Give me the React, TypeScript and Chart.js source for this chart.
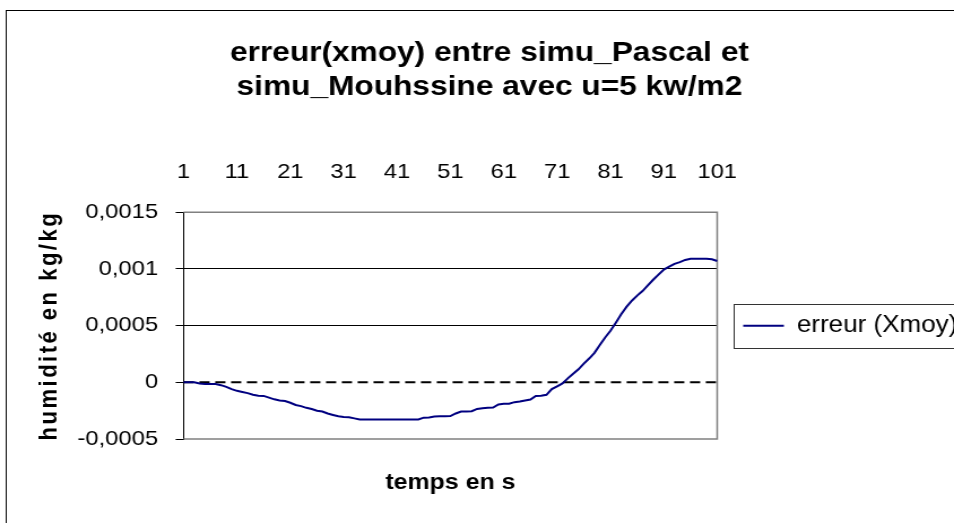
import React, { useEffect, useRef } from 'react';
import { Chart, registerables } from 'chart.js';

Chart.register(...registerables);

const TITLE_LINES = ['erreur(xmoy) entre simu_Pascal et', 'simu_Mouhssine avec u=5 kw/m2'];
const X_TITLE = 'temps en s';
const Y_TITLE = 'humidité en kg/kg';
const SERIES_LABEL = 'erreur (Xmoy)';

// time steps 1..101
const CATEGORIES: string[] = Array.from({ length: 101 }, (_, i) => String(i + 1));
const X_LABEL_STEP = 10;

const Y_TICKS = [-0.0005, 0, 0.0005, 0.001, 0.0015];
const Y_TICK_LABELS = ['-0,0005', '0', '0,0005', '0,001', '0,0015'];

const ERREUR_XMOY = [
  0, 0, 0, -1.0e-5, -1.5e-5, -1.5e-5, -1.5e-5, -2.5e-5, -4.0e-5, -6.0e-5,
  -7.5e-5, -8.5e-5, -9.5e-5, -1.10e-4, -1.18e-4, -1.20e-4, -1.35e-4, -1.50e-4, -1.60e-4, -1.65e-4,
  -1.80e-4, -2.00e-4, -2.10e-4, -2.25e-4, -2.35e-4, -2.50e-4, -2.58e-4, -2.75e-4, -2.88e-4, -3.00e-4,
  -3.05e-4, -3.08e-4, -3.18e-4, -3.28e-4, -3.28e-4, -3.28e-4, -3.28e-4, -3.28e-4, -3.28e-4, -3.28e-4,
  -3.28e-4, -3.28e-4, -3.28e-4, -3.28e-4, -3.28e-4, -3.12e-4, -3.10e-4, -3.02e-4, -3.00e-4, -3.00e-4,
  -2.98e-4, -2.75e-4, -2.58e-4, -2.58e-4, -2.55e-4, -2.35e-4, -2.28e-4, -2.24e-4, -2.22e-4, -1.95e-4,
  -1.90e-4, -1.88e-4, -1.75e-4, -1.70e-4, -1.60e-4, -1.52e-4, -1.20e-4, -1.18e-4, -1.10e-4, -6.0e-5,
  -3.5e-5, -1.0e-5, 3.5e-5, 7.5e-5, 1.15e-4, 1.65e-4, 2.10e-4, 2.60e-4, 3.30e-4, 3.95e-4,
  4.55e-4, 5.25e-4, 6.00e-4, 6.65e-4, 7.20e-4, 7.65e-4, 8.05e-4, 8.55e-4, 9.05e-4, 9.50e-4,
  9.95e-4, 1.020e-3, 1.045e-3, 1.060e-3, 1.080e-3, 1.090e-3, 1.090e-3, 1.090e-3, 1.090e-3, 1.085e-3,
  1.070e-3,
];

const FONT = "'Liberation Sans', Arial, Helvetica, sans-serif";

export default function App() {
  const ref = useRef<HTMLCanvasElement>(null);

  useEffect(() => {
    document.body.style.margin = '0';
    document.body.style.overflow = 'hidden';
    const canvas = ref.current;
    if (!canvas) return;

    const framePlugin = {
      id: 'frame',
      beforeDraw(chart: any) {
        const ctx = chart.ctx;
        ctx.save();
        ctx.fillStyle = '#ffffff';
        ctx.fillRect(0, 0, chart.width, chart.height);
        ctx.strokeStyle = '#000000';
        ctx.lineWidth = 1;
        ctx.strokeRect(5.5, 10.5, chart.width + 40, chart.height + 40);
        ctx.restore();
      },
    };

    const plotPlugin = {
      id: 'plotDecor',
      beforeDatasetsDraw(chart: any) {
        const { ctx, chartArea: a, scales } = chart;
        const y = scales.y;
        ctx.save();
        ctx.strokeStyle = '#808080';
        ctx.lineWidth = 1.5;
        ctx.beginPath();
        ctx.moveTo(a.left, a.top);
        ctx.lineTo(a.right, a.top);
        ctx.lineTo(a.right, a.bottom);
        ctx.lineTo(a.left, a.bottom);
        ctx.stroke();
        const y0 = y.getPixelForValue(0);
        ctx.strokeStyle = '#000000';
        ctx.lineWidth = 2;
        ctx.setLineDash([9, 5]);
        ctx.beginPath();
        ctx.moveTo(a.left, y0);
        ctx.lineTo(a.right, y0);
        ctx.stroke();
        ctx.restore();
      },
    };

    const legendBoxPlugin = {
      id: 'legendBox',
      afterDraw(chart: any) {
        const hb = chart.legend && chart.legend.legendHitBoxes && chart.legend.legendHitBoxes[0];
        if (!hb) return;
        const ctx = chart.ctx;
        ctx.save();
        ctx.strokeStyle = '#333333';
        ctx.lineWidth = 1;
        ctx.strokeRect(Math.round(hb.left - 9) + 0.5, Math.round(hb.top + hb.height / 2 - 22) + 0.5, 400, 44);
        ctx.restore();
      },
    };

    const layoutTweaks = {
      id: 'layoutTweaks',
      afterLayout(chart: any) {
        // let the legend text run to the canvas edge (the reference box is cut by the frame edge)
        const lg = chart.legend;
        if (lg) {
          lg.right = chart.width + 60;
          lg.width = lg.right - lg.left;
        }
        const s = chart.scales.y;
        if (s && !s.__spaced) {
          const orig = s.drawTitle;
          s.drawTitle = function (...args: any[]) {
            const c = this.ctx;
            const prev = c.letterSpacing;
            c.letterSpacing = '2.5px';
            try {
              orig.apply(this, args);
            } finally {
              c.letterSpacing = prev || '0px';
            }
          };
          s.__spaced = true;
        }
      },
    };

    const chart = new Chart(canvas, {
      type: 'line',
      data: {
        labels: CATEGORIES,
        datasets: [
          {
            label: SERIES_LABEL,
            data: ERREUR_XMOY,
            borderColor: '#000080',
            backgroundColor: '#000080',
            borderWidth: 2,
            pointRadius: 0,
            tension: 0,
            fill: false,
          },
        ],
      },
      options: {
        responsive: false,
        animation: false,
        devicePixelRatio: 1,
        layout: { padding: { left: 30, right: 8, top: 0, bottom: 0 } },
        plugins: {
          title: {
            display: true,
            text: TITLE_LINES,
            color: '#000',
            font: { family: FONT, size: 28, weight: 'bold', lineHeight: 1.2 },
            padding: { top: 36.5, bottom: 29.4 },
          },
          subtitle: {
            display: true,
            text: X_TITLE,
            position: 'bottom',
            fullSize: false,
            color: '#000',
            font: { family: FONT, size: 22, weight: 'bold', lineHeight: 1.2 },
            padding: { top: 30.8, bottom: 26.8 },
          },
          legend: {
            display: true,
            position: 'right',
            fullSize: false,
            align: 'center',
            labels: {
              color: '#000',
              font: { family: FONT, size: 23 },
              boxWidth: 36,
              boxHeight: 0,
              padding: 23,
            },
          },
          tooltip: { enabled: false },
        },
        scales: {
          x: {
            type: 'category',
            position: 'top',
            offset: false,
            grid: { display: false, drawTicks: false },
            border: { display: false },
            ticks: {
              autoSkip: false,
              maxRotation: 0,
              minRotation: 0,
              padding: 27,
              color: '#000',
              font: { family: FONT, size: 21 },
              callback: (_v: any, i: number) => (i % X_LABEL_STEP === 0 ? CATEGORIES[i] : ''),
            },
          },
          y: {
            min: Y_TICKS[0],
            max: Y_TICKS[Y_TICKS.length - 1],
            afterBuildTicks: (s: any) => {
              s.ticks = Y_TICKS.map((v) => ({ value: v }));
            },
            grid: {
              color: (c: any) =>
                c.tick && (c.tick.value === Y_TICKS[2] || c.tick.value === Y_TICKS[3]) ? '#000000' : 'rgba(0,0,0,0)',
              lineWidth: 1,
              drawTicks: true,
              tickLength: 7,
              tickColor: '#000000',
              tickWidth: 1,
            },
            border: { display: true, color: '#000000', width: 1 },
            ticks: {
              padding: 15.6,
              color: '#000',
              font: { family: FONT, size: 21 },
              callback: (_v: any, i: number) => Y_TICK_LABELS[i],
            },
            title: {
              display: true,
              text: Y_TITLE,
              color: '#000',
              font: { family: FONT, size: 22, weight: 'bold', lineHeight: 1.2 },
              padding: { top: 1, bottom: -4.4 },
            },
          },
        },
      } as any,
      plugins: [framePlugin, plotPlugin, legendBoxPlugin, layoutTweaks],
    });

    return () => {
      chart.destroy();
    };
  }, []);

  return (
    <div style={{ width: '954px', height: '523px', overflow: 'hidden', position: 'relative', background: '#fff' }}>
      <canvas
        ref={ref}
        width={844}
        height={523}
        style={{ display: 'block', width: '954px', height: '523px' }}
      />
    </div>
  );
}
